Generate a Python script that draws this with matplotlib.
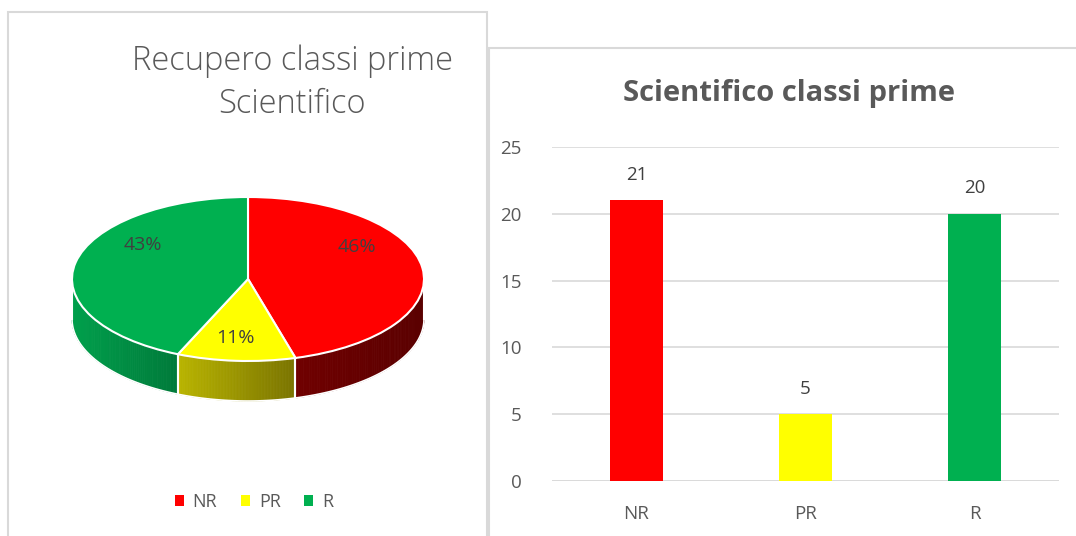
import numpy as np
import matplotlib
matplotlib.use("Agg")
import matplotlib.pyplot as plt
from matplotlib.patches import Rectangle, Polygon
from matplotlib.colors import to_rgb

# ---------------- data ----------------
categories = ["NR", "PR", "R"]
counts = [21, 5, 20]
pie_title = "Recupero classi prime\nScientifico"
bar_title = "Scientifico classi prime"
yticks = [0, 5, 10, 15, 20, 25]

# ---------------- style ----------------
top_colors = ["#FF0000", "#FFFF00", "#00B050"]
side_left = ["#700000", "#BAB500", "#00A04C"]
side_right = ["#5A0000", "#7A7400", "#007A3A"]
text_col = "#595959"
label_col = "#404040"
border_col = "#D9D9D9"
FONT = ["Open Sans", "DejaVu Sans"]
plt.rcParams["font.family"] = FONT

W, H = 1076, 536
fig = plt.figure(figsize=(W / 100, H / 100), dpi=100)

def fx(px):
    return px / W

def fy(py):
    return 1 - py / H

# panel borders
fig.patches.append(Rectangle((fx(8), fy(560)), fx(487 - 8), fy(12) - fy(560),
                             transform=fig.transFigure, fill=False,
                             edgecolor=border_col, lw=1.5))
fig.patches.append(Rectangle((fx(489), fy(560)), fx(1200 - 489), fy(48) - fy(560),
                             transform=fig.transFigure, fill=False,
                             edgecolor=border_col, lw=1.5))

# ---------------- pie (3D look) ----------------
cx, cy, rx, ry, depth_px = 248, 279, 176, 82, 40
xr = 1.1
ylo, yhi = -1.8, 1.2
axp = fig.add_axes([fx(cx - rx * xr), fy(cy - ylo * ry), fx(2 * rx * xr),
                    (yhi - ylo) * ry / H])
d = depth_px / ry

total = sum(counts)
fracs = [c / total for c in counts]
bounds = [90.0]
for f in fracs:
    bounds.append(bounds[-1] - f * 360)

# sides
for i in range(len(counts)):
    a0, a1 = bounds[i + 1], bounds[i]
    lo = max(a0, -180)
    hi = min(a1, 0)
    if hi <= lo:
        continue
    ts = np.linspace(lo, hi, 80)
    xs_all = np.cos(np.radians(ts))
    xmin, xmax = xs_all.min(), xs_all.max()
    cl, cr = np.array(to_rgb(side_left[i])), np.array(to_rgb(side_right[i]))
    for j in range(len(ts) - 1):
        t = np.radians([ts[j], ts[j + 1]])
        xs = np.cos(t)
        ys = np.sin(t)
        u = (xs.mean() - xmin) / max(xmax - xmin, 1e-9)
        col = cl * (1 - u) + cr * u
        poly = [(xs[0], ys[0]), (xs[1], ys[1]), (xs[1], ys[1] - d), (xs[0], ys[0] - d)]
        axp.add_patch(Polygon(poly, closed=True, facecolor=col, edgecolor=col,
                              lw=0.6, zorder=1))
    t = np.radians(ts)
    axp.plot(np.cos(t), np.sin(t) - d, color="white", lw=1.2, zorder=2)
    for a in (lo, hi):
        ar = np.radians(a)
        axp.plot([np.cos(ar)] * 2, [np.sin(ar), np.sin(ar) - d], color="white",
                 lw=1.5, zorder=2)

wedges, _t, autotexts = axp.pie(counts, colors=top_colors, startangle=90,
                                counterclock=False, radius=1, center=(0, 0),
                                autopct=lambda p: f"{p:.0f}%", frame=True,
                                wedgeprops=dict(edgecolor="white", linewidth=1.5),
                                textprops=dict(color=label_col, fontsize=14))
for w in wedges:
    w.set_zorder(3)
axp.set_xlim(-xr, xr)
axp.set_ylim(ylo, yhi)
axp.set_aspect("auto")
axp.axis("off")
label_pos = [(0.62, 0.39), (-0.07, -0.72), (-0.60, 0.41)]
for t, p in zip(autotexts, label_pos):
    t.set_position(p)
    t.set_zorder(5)

t1, t2 = pie_title.split("\n")
fig.text(fx(292), fy(61), t1, ha="center", va="center",
         fontsize=23.5, color=text_col, fontweight="light")
fig.text(fx(292), fy(104), t2, ha="center", va="center",
         fontsize=23.5, color=text_col, fontweight="light")

handles = [Rectangle((0, 0), 1, 1, facecolor=c, edgecolor="none") for c in top_colors]
fig.legend(handles, categories, loc="center", bbox_to_anchor=(fx(254), fy(502)),
           ncol=3, frameon=False, fontsize=13, labelcolor=text_col,
           handlelength=0.5, handleheight=0.5, handletextpad=0.5, columnspacing=1.3)

# ---------------- bar chart ----------------
axb = fig.add_axes([fx(552), fy(481), fx(1059 - 552), (481 - 147) / H])
x = np.arange(len(categories))
bars = axb.bar(x, counts, width=0.31, color=top_colors, zorder=3)
axb.set_xlim(-0.5, len(categories) - 0.5)
axb.set_ylim(0, 25)
axb.set_yticks(yticks)
axb.set_xticks(x)
axb.set_xticklabels(categories)
axb.grid(axis="y", color=border_col, lw=1.2, zorder=0)
for s in axb.spines.values():
    s.set_visible(False)
axb.tick_params(axis="both", length=0, labelsize=13.5, labelcolor=text_col)
axb.tick_params(axis="y", pad=22)
axb.tick_params(axis="x", pad=17)
axb.axhline(0, color=border_col, lw=1.2, zorder=1)
axb.bar_label(bars, labels=[str(c) for c in counts], padding=12, fontsize=13.5,
              color=label_col)
fig.text(fx(789), fy(94), bar_title, ha="center", va="center", fontsize=21,
         fontweight="bold", color=text_col)

fig.savefig("out.png", dpi=100)
